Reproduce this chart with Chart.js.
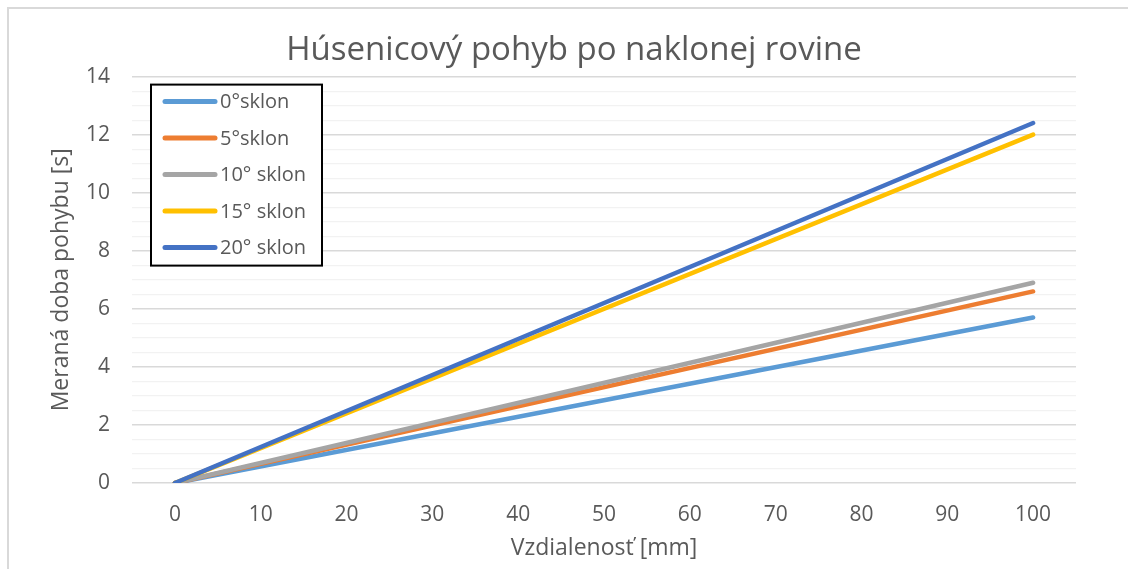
<!DOCTYPE html>
<html>
<head>
<meta charset="utf-8">
<title>Húsenicový pohyb</title>
<script src="https://cdn.jsdelivr.net/npm/chart.js@4/dist/chart.umd.min.js"></script>
<style>
  body { margin: 0; background: #fff; overflow: hidden; }
  #wrap { position: relative; width: 1128px; height: 569px; }
  /* ramik okolo grafu */
  #frame { position: absolute; left: 7px; top: 7px; width: 1200px; height: 700px; border: 2px solid #d9d9d9; box-sizing: border-box; }
  #myLineChart { position: absolute; left: 0; top: 0; }
</style>
</head>
<body>
<div id="wrap">
  <div id="frame"></div>
  <canvas id="myLineChart" width="1128" height="569"></canvas>
</div>
<script>
// vzdialenost [mm] - kategorie na osi x
var vzdialenost = ['0', '10', '20', '30', '40', '50', '60', '70', '80', '90', '100'];

// namerane casy [s], merane na zaciatku a na konci drahy
var sklon0  = [0, null, null, null, null, null, null, null, null, null, 5.7];
var sklon5  = [0, null, null, null, null, null, null, null, null, null, 6.6];
var sklon10 = [0, null, null, null, null, null, null, null, null, null, 6.9];
var sklon15 = [0, null, null, null, null, null, null, null, null, null, 12.0];
var sklon20 = [0, null, null, null, null, null, null, null, null, null, 12.4];

var nazvy = ['0°sklon', '5°sklon', '10° sklon', '15° sklon', '20° sklon'];
var farby = ['#5b9bd5', '#ed7d31', '#a5a5a5', '#ffc000', '#4472c4'];

var textColor = '#595959';
var fontName = "'Open Sans', 'Noto Sans', sans-serif";

function makeDataset(i, data){
   return {
      label : nazvy[i],
      data : data,
      borderColor : farby[i],
      backgroundColor : farby[i],
      borderWidth : 4.5,
      borderCapStyle : 'round',
      borderJoinStyle : 'round',
      pointRadius : 0,
      spanGaps : true,
      tension : 0,
      order : 4 - i   // posledna seria kresli sa navrchu
   };
}

// legenda v ramiku vo vnutri grafu
var boxLegend = {
   id : 'boxLegend',
   afterDraw : function(chart){
      var ctx = chart.ctx;
      var area = chart.chartArea;
      var x = area.left + 19, y = area.top + 8, w = 171, h = 181;
      ctx.save();
      ctx.fillStyle = '#fff';
      ctx.fillRect(x, y, w, h);
      ctx.strokeStyle = '#000';
      ctx.lineWidth = 2;
      ctx.strokeRect(x, y, w, h);
      ctx.font = '20px ' + fontName;
      ctx.textBaseline = 'middle';
      chart.data.datasets.forEach(function(ds, i){
         var rowY = y + 17 + i * 36.5;
         ctx.strokeStyle = ds.borderColor;
         ctx.lineWidth = 5;
         ctx.lineCap = 'round';
         ctx.beginPath();
         ctx.moveTo(x + 14, rowY);
         ctx.lineTo(x + 64, rowY);
         ctx.stroke();
         ctx.fillStyle = textColor;
         ctx.fillText(ds.label, x + 69, rowY + 1);
      });
      ctx.restore();
   }
};

var ctx = document.getElementById('myLineChart').getContext('2d');
var myChart = new Chart(ctx, {
   type : 'line',
   data : {
      labels : vzdialenost,
      datasets : [
         makeDataset(0, sklon0),
         makeDataset(1, sklon5),
         makeDataset(2, sklon10),
         makeDataset(3, sklon15),
         makeDataset(4, sklon20)
      ]
   },
   options : {
      responsive : false,
      animation : false,
      layout : { padding : { left : 20, right : 0, top : 0, bottom : 0 } },
      plugins : {
         legend : { display : false },
         tooltip : { enabled : false },
         title : {
            display : true,
            text : 'Húsenicový pohyb po naklonej rovine',
            color : textColor,
            font : { family : fontName, size : 33, weight : 'normal' },
            padding : { top : 31, bottom : 6 }
         }
      },
      scales : {
         x : {
            offset : true,
            grid : { display : false, drawTicks : false },
            border : { display : false },
            ticks : { color : textColor, font : { family : fontName, size : 21 }, padding : 19, maxRotation : 0 },
            title : {
               display : true,
               text : 'Vzdialenosť [mm]',
               color : textColor,
               font : { family : fontName, size : 23 },
               padding : 7
            },
            afterFit : function(scale){ scale.height = 86; }
         },
         y : {
            min : 0,
            max : 14,
            grid : {
               drawTicks : false,
               color : function(c){ return c.tick && c.tick.value % 2 === 0 ? '#d9d9d9' : '#f2f2f2'; },
               lineWidth : function(c){ return c.tick && c.tick.value % 2 === 0 ? 1.5 : 1.2; }
            },
            border : { display : false },
            ticks : {
               stepSize : 0.5,
               autoSkip : false,
               color : textColor,
               font : { family : fontName, size : 21 },
               padding : 22,
               callback : function(v){ return v % 2 === 0 ? v : ''; }
            },
            title : {
               display : true,
               text : 'Meraná doba pohybu [s]',
               color : textColor,
               font : { family : fontName, size : 23 },
               padding : 28
            },
            afterFit : function(scale){ scale.width = 112; }
         },
         // prazdny okraj vpravo
         y2 : {
            position : 'right',
            display : true,
            grid : { display : false, drawTicks : false },
            border : { display : false },
            ticks : { display : false },
            afterFit : function(scale){ scale.width = 52; }
         }
      }
   },
   plugins : [boxLegend]
});
</script>
</body>
</html>
